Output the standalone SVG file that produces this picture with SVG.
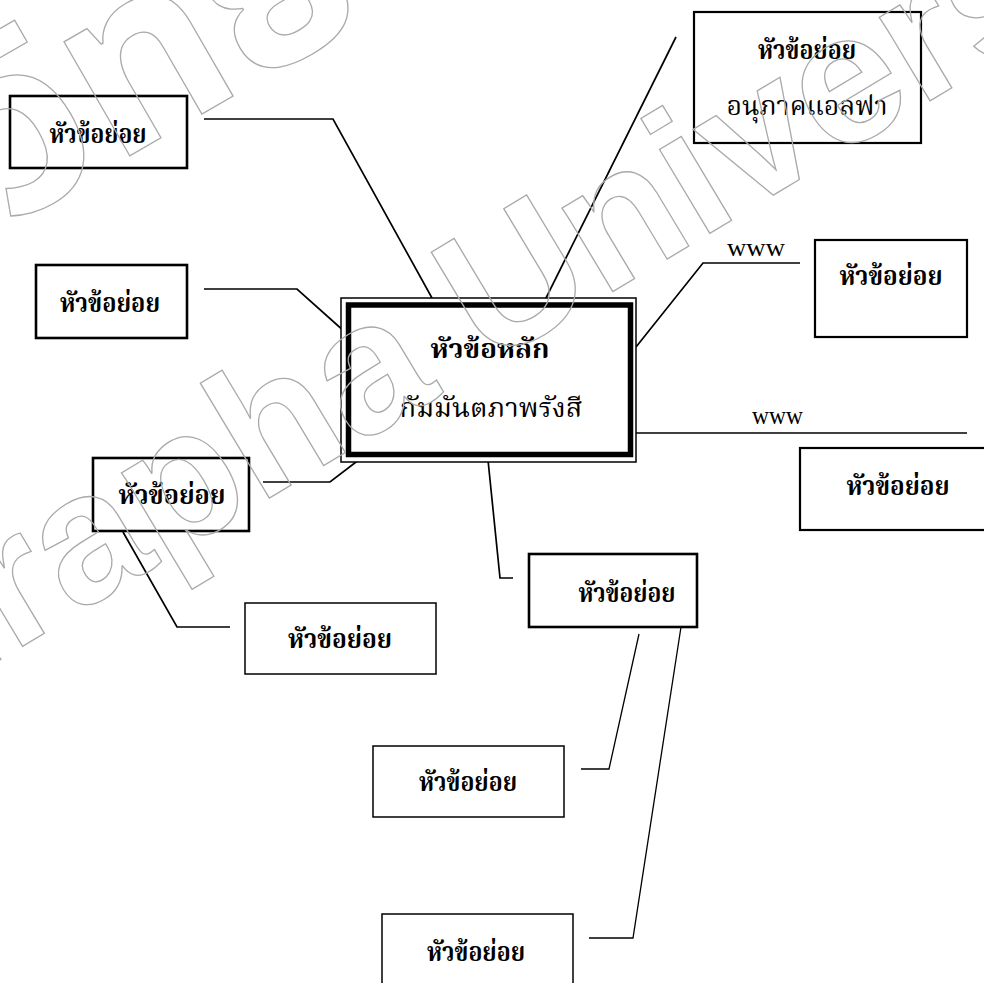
<svg xmlns="http://www.w3.org/2000/svg" width="984" height="983" viewBox="0 0 984 983">
<style>
.box{fill:#fff;stroke:#000;stroke-width:2.2}
.thin{stroke-width:1.5}
.t{font-family:"Noto Serif Thai","Noto Sans Thai","Loma","Garuda","Noto Sans",serif;font-size:26px;fill:#000;text-anchor:middle}
.b{font-weight:bold}
.w{font-family:"Liberation Serif",serif;font-size:25px;fill:#000}
.c{fill:none;stroke:#000;stroke-width:1.7}
.wm{font-family:"Liberation Sans",sans-serif;font-weight:bold;fill:none;stroke:#aaa;stroke-width:1.3}
</style>
<rect width="984" height="983" fill="#fff"/>
<g id="connectors">
<polyline class="c" points="204,119 333,119 432,298"/>
<polyline class="c" points="676,37 545,300"/>
<polyline class="c" points="800,263 703,263 636,347"/>
<polyline class="c" points="633,433 967,433"/>
<polyline class="c" points="204,289 297,289 345,332"/>
<polyline class="c" points="263,482 330,482 360,459"/>
<polyline class="c" points="123,532 177,627 230,627"/>
<polyline class="c" points="488,460 500,578 513,578"/>
<polyline class="c" style="stroke-width:1.3" points="639,634 609,769 581,769"/>
<polyline class="c" style="stroke-width:1.3" points="681,627 633,938 589,938"/>
<text class="w" x="727" y="256" textLength="58" lengthAdjust="spacingAndGlyphs">www</text>
<text class="w" x="752" y="424" textLength="51" lengthAdjust="spacingAndGlyphs">www</text>
</g>
<g id="main">
<rect x="341" y="298" width="295" height="164" fill="#fff" stroke="#000" stroke-width="1.5"/>
<rect x="348.5" y="305" width="282" height="149.5" fill="#fff" stroke="#000" stroke-width="5.5"/>
<text class="t b" x="490" y="358" textLength="119" lengthAdjust="spacingAndGlyphs">หัวข้อหลัก</text>
<text class="t" x="491" y="417" textLength="183" lengthAdjust="spacingAndGlyphs">กัมมันตภาพรังสี</text>
</g>
<g id="nodeA"><rect class="box" style="stroke-width:2.6" x="10" y="96" width="177" height="72"/><text class="t b" x="98" y="143" textLength="97" lengthAdjust="spacingAndGlyphs">หัวข้อย่อย</text></g>
<g id="nodeB"><rect class="box" x="694" y="12" width="227" height="131"/><text class="t b" x="807" y="59" textLength="98" lengthAdjust="spacingAndGlyphs">หัวข้อย่อย</text><text class="t" x="807" y="115" textLength="161" lengthAdjust="spacingAndGlyphs">อนุภาคแอลฟา</text></g>
<g id="nodeC"><rect class="box" x="815" y="240" width="152" height="97"/><text class="t b" x="891" y="285" textLength="103" lengthAdjust="spacingAndGlyphs">หัวข้อย่อย</text></g>
<g id="nodeD"><rect class="box" x="800" y="448" width="200" height="82"/><text class="t b" x="898" y="495" textLength="103" lengthAdjust="spacingAndGlyphs">หัวข้อย่อย</text></g>
<g id="nodeE"><rect class="box" style="stroke-width:2.6" x="36" y="265" width="151" height="73"/><text class="t b" x="110" y="312" textLength="100" lengthAdjust="spacingAndGlyphs">หัวข้อย่อย</text></g>
<g id="nodeF"><rect class="box" style="stroke-width:2.6" x="93" y="458" width="156" height="73"/><text class="t b" x="172" y="504" textLength="107" lengthAdjust="spacingAndGlyphs">หัวข้อย่อย</text></g>
<g id="nodeG"><rect class="box thin" x="245" y="603" width="191" height="71"/><text class="t b" x="340" y="648" textLength="104" lengthAdjust="spacingAndGlyphs">หัวข้อย่อย</text></g>
<g id="nodeH"><rect class="box" style="stroke-width:2.6" x="529" y="554" width="168" height="73"/><text class="t b" x="627" y="602" textLength="97" lengthAdjust="spacingAndGlyphs">หัวข้อย่อย</text></g>
<g id="nodeI"><rect class="box thin" x="373" y="746" width="191" height="71"/><text class="t b" x="468" y="791" textLength="98" lengthAdjust="spacingAndGlyphs">หัวข้อย่อย</text></g>
<g id="nodeJ"><rect class="box thin" x="382" y="914" width="191" height="90"/><text class="t b" x="476" y="961" textLength="98" lengthAdjust="spacingAndGlyphs">หัวข้อย่อย</text></g>
<g id="watermark">
<text class="wm" font-size="185" transform="translate(-200,780) rotate(-31)">Burapha University</text>
<text class="wm" style="font-family:'Noto Sans Thai','Noto Serif Thai',sans-serif" font-size="240" transform="translate(-347,431) rotate(-30)">มหาวิทยาลัยบูรพา</text>
</g>
</svg>
